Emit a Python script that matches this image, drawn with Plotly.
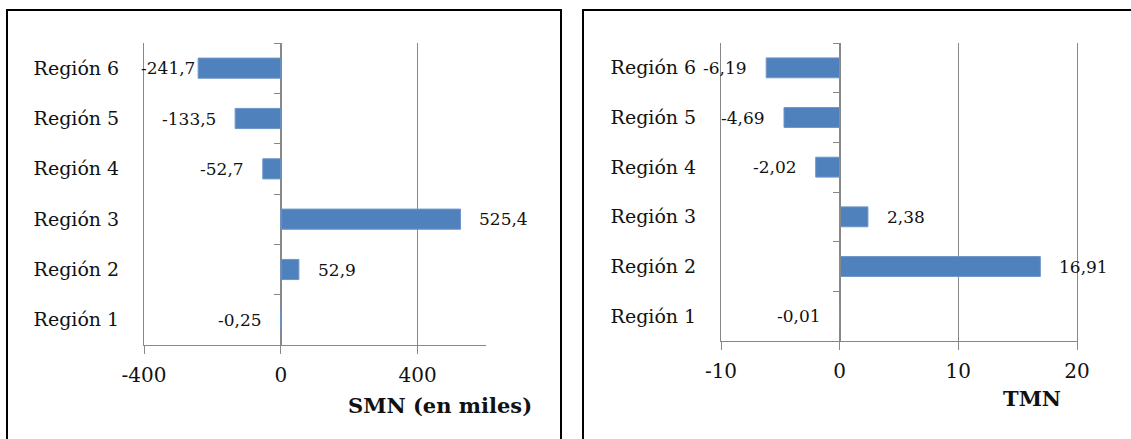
import plotly.graph_objects as go

# Regional change indicators
regions = ["Región 1", "Región 2", "Región 3", "Región 4", "Región 5", "Región 6"]
smn_values = [-0.25, 52.9, 525.4, -52.7, -133.5, -241.7]
smn_labels = ["-0,25", "52,9", "525,4", "-52,7", "-133,5", "-241,7"]
smn_ticks = [-400, 0, 400]
smn_ticktext = ["-400", "0", "400"]
tmn_values = [-0.01, 16.91, 2.38, -2.02, -4.69, -6.19]
tmn_labels = ["-0,01", "16,91", "2,38", "-2,02", "-4,69", "-6,19"]
tmn_ticks = [-10, 0, 10, 20]
tmn_ticktext = ["-10", "0", "10", "20"]

W, H = 1131, 439
BAR = "#4F81BD"
GRID = "#888888"
FONT = "DejaVu Serif"


def px(x):
    return x / W


def py(y):
    return 1 - y / H


cat_pos = list(range(1, len(regions) + 1))
bounds = [i + 0.5 for i in range(0, len(regions) + 1)]

fig = go.Figure()

# edge gridlines are drawn as the category axis line (mirrored where the
# last tick sits on the right edge), since plotly skips grid at range ends
panels = [
    dict(vals=smn_values, labels=smn_labels, xr=[-400, 600], ticks=smn_ticks,
         ticktext=smn_ticktext, dom_x=[px(144), px(486)], dom_y=[py(345), py(43)],
         title="SMN (en miles)", title_xy=(440, 405), suffix="", mirror=False),
    dict(vals=tmn_values, labels=tmn_labels, xr=[-10, 20], ticks=tmn_ticks,
         ticktext=tmn_ticktext, dom_x=[px(721), px(1077)], dom_y=[py(341), py(43)],
         title="TMN", title_xy=(1032, 398), suffix="2", mirror=True),
]

annotations = []
# label offsets in pixels from the bar end (one label sits snug against its bar)
label_shift = {("", 5): 1}

for p in panels:
    s = p["suffix"]
    xa, ya = "x" + s, "y" + s
    fig.add_trace(go.Bar(
        x=p["vals"], y=cat_pos, orientation="h", xaxis=xa, yaxis=ya,
        marker=dict(color=BAR, line=dict(color="#6d95c8", width=1)),
        width=0.4, showlegend=False, hoverinfo="skip",
    ))
    for i, (v, lab) in enumerate(zip(p["vals"], p["labels"])):
        sh = label_shift.get((s, i), 17)
        annotations.append(dict(
            x=v, y=cat_pos[i], xref=xa, yref=ya, text=lab, showarrow=False,
            xanchor="left" if v > 0 else "right", xshift=sh if v > 0 else -sh,
            font=dict(family=FONT, size=17, color="#111111"),
        ))
    annotations.append(dict(
        x=px(p["title_xy"][0]), y=py(p["title_xy"][1]), xref="paper", yref="paper",
        text="<b>%s</b>" % p["title"], showarrow=False, xanchor="center", yanchor="middle",
        font=dict(family=FONT, size=21, color="#111111"),
    ))

    xkey = "xaxis" + s
    ykey = "yaxis" + s
    ov_key = "yaxis" + ("3" if s == "" else "4")
    ov_name = "y" + ("3" if s == "" else "4")
    zero_pos = p["dom_x"][0] + (0 - p["xr"][0]) / (p["xr"][1] - p["xr"][0]) * (p["dom_x"][1] - p["dom_x"][0])
    fig.update_layout(**{
        xkey: dict(domain=p["dom_x"], range=p["xr"], tickvals=p["ticks"], ticktext=p["ticktext"],
                   anchor=ya, showgrid=True, gridcolor=GRID, gridwidth=1,
                   zeroline=False, showline=True, linecolor=GRID, linewidth=1,
                   ticks="outside", ticklen=8, tickcolor=GRID, automargin=False,
                   tickfont=dict(family=FONT, size=20, color="#111111"),
                   ticklabelstandoff=4, fixedrange=True),
        ykey: dict(domain=p["dom_y"], range=[0.5, 6.5], tickvals=cat_pos, ticktext=regions,
                   anchor=xa, showgrid=False, zeroline=False, showline=True, linecolor=GRID,
                   linewidth=1, mirror=p["mirror"], ticks="",
                   tickfont=dict(family=FONT, size=19, color="#111111"), automargin=False,
                   ticklabelstandoff=20, fixedrange=True),
        ov_key: dict(domain=p["dom_y"], range=[0.5, 6.5], overlaying=ya, anchor="free",
                     position=zero_pos, side="left", showline=True, linecolor=GRID, linewidth=1,
                     tickvals=bounds, ticks="outside", ticklen=7, tickcolor=GRID, automargin=False,
                     showticklabels=False, showgrid=False, zeroline=False, fixedrange=True),
    })
    fig.add_trace(go.Scatter(x=[None], y=[None], xaxis=xa, yaxis=ov_name,
                             showlegend=False, hoverinfo="skip"))

shapes = [
    dict(type="rect", xref="paper", yref="paper", x0=px(7), x1=px(561), y0=py(450), y1=py(10),
         line=dict(color="#000000", width=2), fillcolor="rgba(0,0,0,0)", layer="above"),
    dict(type="rect", xref="paper", yref="paper", x0=px(583), x1=px(1140), y0=py(450), y1=py(10),
         line=dict(color="#000000", width=2), fillcolor="rgba(0,0,0,0)", layer="above"),
]

fig.update_layout(
    width=W, height=H, margin=dict(l=0, r=0, t=0, b=0, autoexpand=False),
    paper_bgcolor="white", plot_bgcolor="white",
    annotations=annotations, shapes=shapes, bargap=0.6,
)

fig.write_html("out.html", config=dict(displayModeBar=False))
